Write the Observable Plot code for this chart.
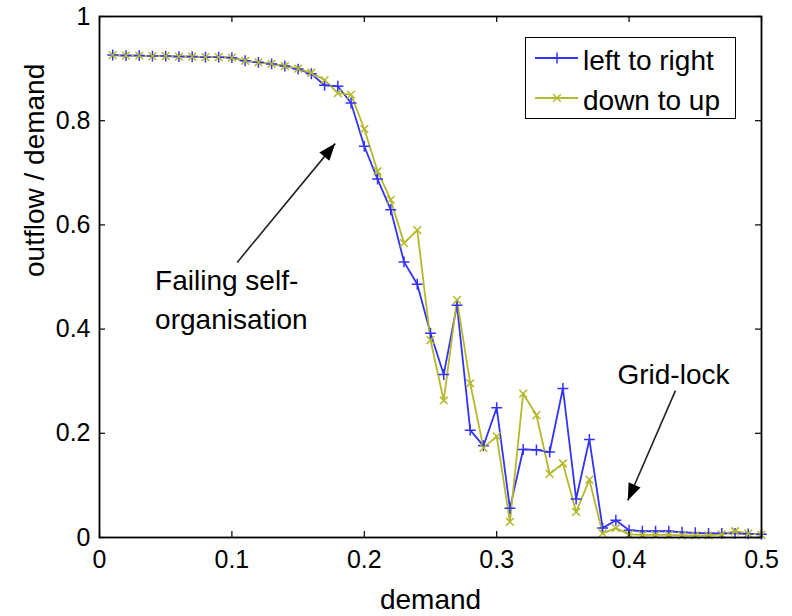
<!DOCTYPE html>
<html>
<head>
<meta charset="utf-8">
<script src="https://cdn.jsdelivr.net/npm/d3@7"></script>
<script src="https://cdn.jsdelivr.net/npm/@observablehq/plot@0.6"></script>
<style>
  html, body { margin: 0; padding: 0; background: white; }
  #wrap { position: relative; width: 792px; height: 616px; font-family: "Liberation Sans", Arial, Helvetica, sans-serif; }
  #legend { position: absolute; left: 525px; top: 37px; width: 211px; height: 82px; box-sizing: border-box; border: 1.6px solid black; background: white; }
</style>
</head>
<body>
<div id="wrap"><div id="chart"></div><div id="legend"></div></div>
<script>
// ---- data ----
const demand = [0.01,0.02,0.03,0.04,0.05,0.06,0.07,0.08,0.09,0.10,
                0.11,0.12,0.13,0.14,0.15,0.16,0.17,0.18,0.19,0.20,
                0.21,0.22,0.23,0.24,0.25,0.26,0.27,0.28,0.29,0.30,
                0.31,0.32,0.33,0.34,0.35,0.36,0.37,0.38,0.39,0.40,
                0.41,0.42,0.43,0.44,0.45,0.46,0.47,0.48,0.49,0.50];
const leftToRight = [0.926,0.925,0.925,0.924,0.924,0.923,0.923,0.922,0.922,0.921,
                     0.915,0.912,0.909,0.905,0.899,0.890,0.868,0.866,0.834,0.751,
                     0.688,0.629,0.529,0.486,0.392,0.313,0.446,0.206,0.176,0.249,
                     0.056,0.169,0.168,0.164,0.286,0.074,0.188,0.018,0.033,0.014,
                     0.012,0.012,0.012,0.010,0.009,0.008,0.008,0.008,0.007,0.006];
const downToUp = [0.926,0.925,0.925,0.924,0.924,0.923,0.923,0.922,0.922,0.921,
                  0.915,0.912,0.909,0.905,0.900,0.892,0.878,0.853,0.850,0.784,
                  0.703,0.648,0.565,0.590,0.379,0.263,0.456,0.296,0.172,0.194,
                  0.030,0.276,0.235,0.122,0.142,0.049,0.111,0.008,0.018,0.006,
                  0.005,0.005,0.005,0.004,0.004,0.004,0.006,0.012,0.008,0.005];
const seriesNames = ["left to right", "down to up"];
const seriesColors = ["#3333ff", "#b5b82c"];
const seriesSymbols = ["plus", "times"];
const xTicks = [0, 0.1, 0.2, 0.3, 0.4, 0.5];
const xTickLabels = ["0", "0.1", "0.2", "0.3", "0.4", "0.5"];
const yTicks = [0, 0.2, 0.4, 0.6, 0.8, 1];
const yTickLabels = ["0", "0.2", "0.4", "0.6", "0.8", "1"];
const xLabel = "demand";
const yLabel = "outflow / demand";
// annotations (data coordinates)
const failingNote = [
  {x: 0.042, y: 0.493, text: "Failing self-"},
  {x: 0.042, y: 0.417, text: "organisation"}
];
const gridNote = [{x: 0.4335, y: 0.311, text: "Grid-lock"}];
const noteArrows = [
  {x1: 0.104, y1: 0.528, x2: 0.178, y2: 0.756},
  {x1: 0.435, y1: 0.282, x2: 0.399, y2: 0.071}
];

// ---- layout ----
const W = 792, H = 616;
const mL = 99, mR = 31, mT = 16, mB = 79;
const pxPerX = (W - mL - mR) / 0.5;
const pxPerY = (H - mT - mB) / 1;
const tickLenX = 6 / pxPerX, tickLenY = 6 / pxPerY;

const rows = [];
demand.forEach((d, i) => {
  rows.push({demand: d, value: leftToRight[i], series: seriesNames[0]});
});
demand.forEach((d, i) => {
  rows.push({demand: d, value: downToUp[i], series: seriesNames[1]});
});

const arrowHead = {
  draw(context) {
    context.moveTo(0, 0);
    context.lineTo(-6.5, 17);
    context.lineTo(6.5, 17);
    context.closePath();
  }
};
const heads = noteArrows.map(a => ({
  x: a.x2, y: a.y2,
  angle: Math.atan2((a.x2 - a.x1) * pxPerX, (a.y2 - a.y1) * pxPerY) * 180 / Math.PI
}));

const font = '"Liberation Sans", Arial, Helvetica, sans-serif';
const chart = Plot.plot({
  width: W, height: H,
  marginLeft: mL, marginRight: mR, marginTop: mT, marginBottom: mB,
  style: {fontFamily: font, fontSize: "25px", background: "white", overflow: "visible"},
  x: {domain: [0, 0.5], axis: null},
  y: {domain: [0, 1], axis: null},
  color: {domain: seriesNames, range: seriesColors},
  symbol: {domain: seriesNames, range: seriesSymbols},
  marks: [
    // series
    Plot.line(rows, {x: "demand", y: "value", z: "series", stroke: "series", strokeWidth: 1.8}),
    Plot.dot(rows, {x: "demand", y: "value", stroke: "series", symbol: "series", r: 3.6, strokeWidth: 1.5}),
    // annotations
    Plot.link(noteArrows, {x1: "x1", y1: "y1", x2: "x2", y2: "y2", stroke: "#222", strokeWidth: 1.6}),
    Plot.dot(heads, {x: "x", y: "y", rotate: "angle", symbol: arrowHead, fill: "black", stroke: "none", r: 5}),
    Plot.text(failingNote, {x: "x", y: "y", text: "text", textAnchor: "start", lineAnchor: "middle", fontSize: 28, fill: "black"}),
    Plot.text(gridNote, {x: "x", y: "y", text: "text", textAnchor: "middle", lineAnchor: "middle", fontSize: 28, fill: "black"}),
    // frame and inward ticks
    Plot.ruleX(xTicks, {x: d => d, y1: 0, y2: tickLenY, stroke: "black", strokeWidth: 1.2}),
    Plot.ruleX(xTicks, {x: d => d, y1: 1 - tickLenY, y2: 1, stroke: "black", strokeWidth: 1.2}),
    Plot.ruleY(yTicks, {y: d => d, x1: 0, x2: tickLenX, stroke: "black", strokeWidth: 1.2}),
    Plot.ruleY(yTicks, {y: d => d, x1: 0.5 - tickLenX, x2: 0.5, stroke: "black", strokeWidth: 1.2}),
    Plot.frame({stroke: "black", strokeWidth: 1.8}),
    // tick labels
    Plot.text(xTicks, {x: d => d, text: (d, i) => xTickLabels[i], frameAnchor: "bottom", dy: 22, lineAnchor: "middle", fontSize: 25, fill: "black"}),
    Plot.text(yTicks, {y: d => d, text: (d, i) => yTickLabels[i], frameAnchor: "left", dx: -9, textAnchor: "end", lineAnchor: "middle", fontSize: 25, fill: "black"}),
    // axis labels
    Plot.text([xLabel], {text: d => d, frameAnchor: "bottom", dy: 63, lineAnchor: "middle", fontSize: 28, fill: "black"}),
    Plot.text([yLabel], {text: d => d, frameAnchor: "left", dx: -64, rotate: -90, lineAnchor: "middle", fontSize: 28, fill: "black"})
  ]
});
document.getElementById("chart").appendChild(chart);

// ---- legend ----
const leg = d3.select("#legend").append("svg").attr("width", 208).attr("height", 79)
  .style("font-family", font);
const legYs = [20, 60];
seriesNames.forEach((name, i) => {
  const g = leg.append("g").attr("transform", `translate(0,${legYs[i]})`);
  g.append("line").attr("x1", 9).attr("x2", 52).attr("y1", 0).attr("y2", 0)
    .attr("stroke", seriesColors[i]).attr("stroke-width", 1.8);
  g.append("path").attr("transform", "translate(31,0)")
    .attr("d", d3.symbol(i === 0 ? d3.symbolPlus : d3.symbolTimes, 40)())
    .attr("fill", "none").attr("stroke", seriesColors[i]).attr("stroke-width", 1.5);
  g.append("text").attr("x", 57).attr("y", 2).attr("dominant-baseline", "central")
    .attr("font-size", 28).attr("fill", "black").text(name);
});
</script>
</body>
</html>
